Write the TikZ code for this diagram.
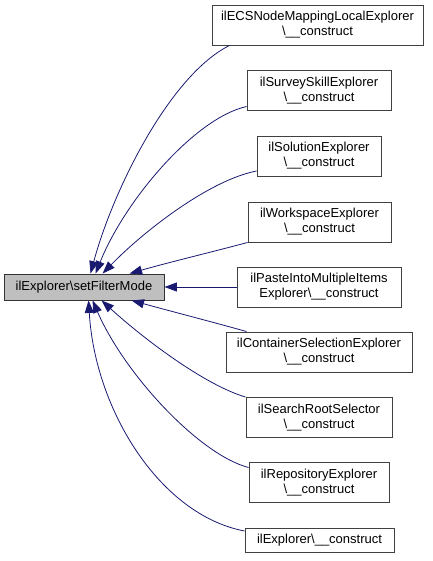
\documentclass[tikz,border=0pt]{standalone}
\usepackage{fontspec}
\setmainfont{Liberation Sans}
\usetikzlibrary{arrows.meta,calc}
\definecolor{edgeblue}{HTML}{191970}
\definecolor{mainfill}{HTML}{BFBFBF}
\begin{document}
\begin{tikzpicture}[x=1pt,y=-1pt,
  box/.style={draw=black!75, line width=0.9pt, fill=white, inner sep=0pt, align=center,
    font=\fontsize{13}{15}\selectfont},
  mainbox/.style={box, fill=mainfill, draw=black!80},
  edge/.style={draw=edgeblue, line width=0.8pt, -{Triangle[length=12.5pt,width=9pt]}}]
\useasboundingbox (0,0) rectangle (432,561);
\node[mainbox, minimum width=160pt, minimum height=26pt] (main) at (84,287) {ilExplorer\textbackslash setFilterMode};
\node[box, minimum width=211pt, minimum height=40pt] (ecs) at (317.5,25) {ilECSNodeMappingLocalExplorer\\\textbackslash\_\_construct};
\node[box, minimum width=144pt, minimum height=40pt] (survey) at (319,90.5) {ilSurveySkillExplorer\\\textbackslash\_\_construct};
\node[box, minimum width=124pt, minimum height=40pt] (solution) at (319,156) {ilSolutionExplorer\\\textbackslash\_\_construct};
\node[box, minimum width=143pt, minimum height=40pt] (workspace) at (319.5,222) {ilWorkspaceExplorer\\\textbackslash\_\_construct};
\node[box, minimum width=164pt, minimum height=40pt] (paste) at (319,287) {ilPasteIntoMultipleItems\\Explorer\textbackslash\_\_construct};
\node[box, minimum width=186pt, minimum height=40pt] (container) at (319,352) {ilContainerSelectionExplorer\\\textbackslash\_\_construct};
\node[box, minimum width=146pt, minimum height=40pt] (search) at (319,417.5) {ilSearchRootSelector\\\textbackslash\_\_construct};
\node[box, minimum width=140pt, minimum height=40pt] (repository) at (319,482.5) {ilRepositoryExplorer\\\textbackslash\_\_construct};
\node[box, minimum width=149pt, minimum height=24pt] (explorer) at (319.5,540) {ilExplorer\textbackslash\_\_construct};

\draw[edge] ($(ecs.south west)+(18,0)$) .. controls (170,75) and (113,190) .. ($(main.north west)+(87,0)$);
\draw[edge] ($(survey.west)+(0,16)$) .. controls (195,118) and (125,200) .. ($(main.north west)+(92,0)$);
\draw[edge] ($(solution.west)+(0,15)$) .. controls (210,180) and (145,230) .. ($(main.north west)+(99,0)$);
\draw[edge] (workspace.south west) .. controls (220,250) and (170,262) .. ($(main.north west)+(126,0)$);
\draw[edge] (paste.west) -- (main.east);
\draw[edge] ($(container.north west)+(21,0)$) .. controls (220,324) and (170,311) .. ($(main.south west)+(128,0)$);
\draw[edge] (search.north west) .. controls (205,385) and (145,340) .. ($(main.south west)+(98,0)$);
\draw[edge] ($(repository.west)+(0,-15)$) .. controls (200,455) and (125,375) .. ($(main.south west)+(89,0)$);
\draw[edge] ($(explorer.west)+(0,-9)$) .. controls (160,515) and (95,410) .. ($(main.south west)+(85,0)$);
\end{tikzpicture}
\end{document}
